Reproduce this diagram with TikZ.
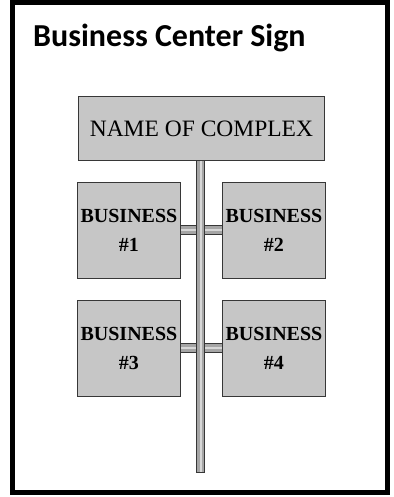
\documentclass[tikz,border=0pt]{standalone}
\usepackage{fontspec}
\setmainfont{Liberation Serif}
\newfontfamily\titlefont{Carlito}
\definecolor{boxgray}{RGB}{198,198,198}
\definecolor{edgegray}{RGB}{55,55,55}
\definecolor{polegray}{RGB}{165,165,165}
\definecolor{polelight}{RGB}{215,215,215}
\tikzset{
  signbox/.style={draw=edgegray, line width=0.9pt, fill=boxgray, inner sep=0pt, align=center},
  bizbox/.style={signbox, minimum width=103pt, minimum height=96pt,
    font=\bfseries\fontsize{20}{29}\selectfont},
  polebar/.style={draw=edgegray, line width=1pt, double=polegray, double distance=7pt},
  crossbar/.style={draw=edgegray, line width=1pt, double=polegray, double distance=8pt},
  shine/.style={draw=polelight, line width=2pt}
}
\begin{document}
\begin{tikzpicture}[x=1pt,y=-1pt]
\useasboundingbox (0,0) rectangle (393,497);
\fill[white] (0,0) rectangle (393,497);
\draw[line width=5pt] (12.5,2.5) rectangle (387.5,492);
\node[anchor=base west, inner sep=0pt, font=\titlefont\bfseries\fontsize{32}{38}\selectfont] (title) at (33,46.5) {Business Center Sign};
\node[signbox, minimum width=246pt, minimum height=64pt, anchor=north west, font=\fontsize{23.5}{28}\selectfont] (name) at (78,96) {NAME OF COMPLEX};
\node[bizbox, anchor=north west] (b1) at (77,182) {BUSINESS\\\#1};
\node[bizbox, anchor=north west] (b2) at (222,182) {BUSINESS\\\#2};
\node[bizbox, anchor=north west] (b3) at (77,300) {BUSINESS\\\#3};
\node[bizbox, anchor=north west] (b4) at (222,300) {BUSINESS\\\#4};
\coordinate (poleend) at (200.5,472);
\draw[crossbar] (b1.east) -- (b2.west);
\draw[shine] (b1.east) -- (b2.west);
\draw[crossbar] (b3.east) -- (b4.west);
\draw[shine] (b3.east) -- (b4.west);
\draw[polebar] (name.south -| poleend) -- (poleend);
\draw[shine] (name.south -| poleend) -- (poleend);
\draw[edgegray, line width=1pt] ([xshift=-4.5pt]poleend) -- ([xshift=4.5pt]poleend);
\end{tikzpicture}
\end{document}
